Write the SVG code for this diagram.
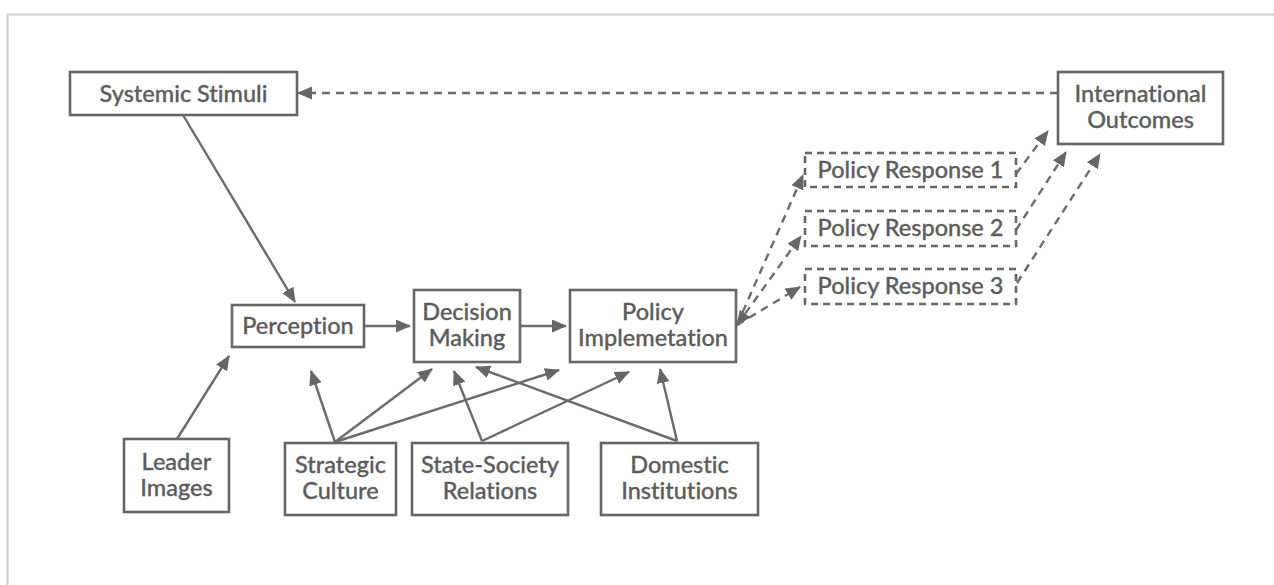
<svg xmlns="http://www.w3.org/2000/svg" width="1274" height="585" viewBox="0 0 1274 585">
<defs>
<marker id="ah" markerWidth="15" markerHeight="13" refX="14" refY="6.5" orient="auto-start-reverse" markerUnits="userSpaceOnUse">
<path d="M0,0 L15,6.5 L0,13 z" fill="#666"/>
</marker>
<style>
.box{fill:#fff;stroke:#666;stroke-width:2.6}
.dbox{fill:#fff;stroke:#666;stroke-width:2.6;stroke-dasharray:7 5}
.t{font-family:Lato,"Liberation Sans",sans-serif;font-size:23.5px;font-weight:500;fill:#5c5c5c;stroke:#5c5c5c;stroke-width:0.3;text-anchor:middle;font-variant-ligatures:none;font-feature-settings:"liga" 0}
.c{fill:none;stroke:#6b6b6b;stroke-width:2.4}
.cs{marker-end:url(#ah)}
.d{stroke-dasharray:8 6}
</style>
</defs>
<rect width="1274" height="585" fill="#fff"/>
<rect x="7.5" y="14.5" width="1300" height="620" fill="none" stroke="#d0d0d0" stroke-width="2.2"/>

<g id="connectors">
<line class="c cs" x1="183" y1="115" x2="295" y2="302"/>
<line class="c cs" x1="177" y1="439" x2="229" y2="356"/>
<line class="c cs" x1="364" y1="326" x2="410" y2="326"/>
<line class="c cs" x1="520" y1="326" x2="566" y2="326"/>
<line class="c cs" x1="335" y1="442" x2="311" y2="371"/>
<line class="c cs" x1="335" y1="442" x2="432" y2="369"/>
<line class="c cs" x1="335" y1="442" x2="559" y2="370"/>
<line class="c cs" x1="482" y1="441" x2="454" y2="371"/>
<line class="c cs" x1="482" y1="441" x2="629" y2="372"/>
<line class="c cs" x1="677" y1="441" x2="476" y2="367"/>
<line class="c cs" x1="677" y1="441" x2="660" y2="369"/>
<line class="c cs d" x1="1058" y1="93" x2="298" y2="93"/>
<line class="c cs d" x1="737" y1="325" x2="803" y2="175"/>
<line class="c cs d" x1="737" y1="325" x2="801" y2="236" marker-start="url(#ah)"/>
<line class="c cs d" x1="737" y1="325" x2="800" y2="287"/>
<line class="c cs d" x1="1016" y1="174" x2="1048" y2="131"/>
<line class="c cs d" x1="1016" y1="230" x2="1066" y2="152"/>
<line class="c cs d" x1="1017" y1="283" x2="1100" y2="154"/>
</g>

<g id="systemic-stimuli">
<rect class="box" x="70" y="72" width="227" height="43"/>
<text class="t" x="183.5" y="102">Systemic Stimuli</text>
</g>
<g id="international-outcomes">
<rect class="box" x="1058" y="72" width="165" height="72"/>
<text class="t" x="1140.5" y="102">International</text>
<text class="t" x="1140.5" y="128">Outcomes</text>
</g>
<g id="policy-response-1">
<rect class="dbox" x="805" y="153" width="211" height="34"/>
<text class="t" x="910.5" y="178">Policy Response 1</text>
</g>
<g id="policy-response-2">
<rect class="dbox" x="805" y="211" width="211" height="35"/>
<text class="t" x="910.5" y="236">Policy Response 2</text>
</g>
<g id="policy-response-3">
<rect class="dbox" x="805" y="269" width="211" height="35"/>
<text class="t" x="910.5" y="294">Policy Response 3</text>
</g>
<g id="perception">
<rect class="box" x="232" y="305" width="132" height="42"/>
<text class="t" x="298" y="334">Perception</text>
</g>
<g id="decision-making">
<rect class="box" x="414" y="290" width="106" height="72"/>
<text class="t" x="467" y="320">Decision</text>
<text class="t" x="467" y="346">Making</text>
</g>
<g id="policy-implementation">
<rect class="box" x="570" y="290" width="166" height="72"/>
<text class="t" x="653" y="320">Policy</text>
<text class="t" x="653" y="346">Implemetation</text>
</g>
<g id="leader-images">
<rect class="box" x="124" y="439" width="105" height="73"/>
<text class="t" x="176.5" y="470">Leader</text>
<text class="t" x="176.5" y="496">Images</text>
</g>
<g id="strategic-culture">
<rect class="box" x="285" y="443" width="111" height="72"/>
<text class="t" x="340.5" y="473">Strategic</text>
<text class="t" x="340.5" y="499">Culture</text>
</g>
<g id="state-society-relations">
<rect class="box" x="412" y="443" width="156" height="72"/>
<text class="t" x="490" y="473">State-Society</text>
<text class="t" x="490" y="499">Relations</text>
</g>
<g id="domestic-institutions">
<rect class="box" x="601" y="443" width="157" height="72"/>
<text class="t" x="679.5" y="473">Domestic</text>
<text class="t" x="679.5" y="499">Institutions</text>
</g>
</svg>
